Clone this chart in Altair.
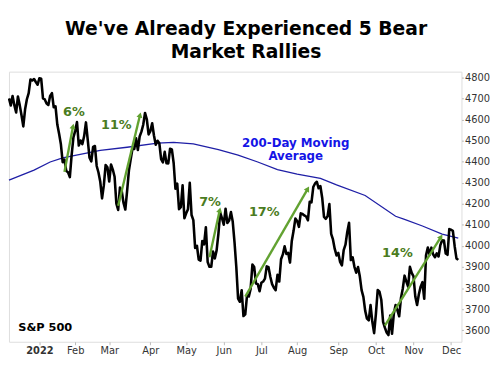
import math
import altair as alt
import pandas as pd

# ---------------- data (S&P 500 daily closes) ----------------
dec21 = [4701, 4667, 4712, 4669, 4634, 4710, 4669, 4621, 4568, 4649, 4697, 4726,
         4791, 4786, 4793, 4779, 4766]
jan = [4797, 4794, 4701, 4696, 4677, 4670, 4713, 4726, 4659, 4663, 4577, 4533,
       4483, 4398, 4410, 4356, 4350, 4327, 4432, 4516]
feb = [4547, 4589, 4477, 4501, 4484, 4522, 4587, 4504, 4419, 4402, 4471, 4475,
       4380, 4349, 4305, 4226, 4289, 4385, 4374]
mar = [4306, 4387, 4363, 4329, 4201, 4171, 4278, 4260, 4204, 4173, 4262, 4358,
       4412, 4463, 4461, 4512, 4456, 4520, 4543, 4576, 4632, 4602, 4530]
apr = [4546, 4583, 4525, 4481, 4500, 4488, 4413, 4397, 4447, 4393, 4392, 4462,
       4459, 4394, 4272, 4296, 4175, 4184, 4288, 4132]
may = [4155, 4175, 4300, 4147, 4123, 3991, 4001, 3935, 3930, 4024, 4008, 4089,
       3924, 3901, 3901, 3974, 3941, 3979, 4058, 4158, 4132]
jun = [4101, 4177, 4109, 4121, 4161, 4116, 4018, 3901, 3750, 3735, 3790, 3667,
       3675, 3765, 3760, 3796, 3912, 3900, 3822, 3819, 3785]
jul = [3825, 3831, 3845, 3903, 3899, 3854, 3819, 3802, 3790, 3863, 3831, 3937,
       3960, 3999, 3962, 3967, 3921, 4024, 4072, 4130]
aug = [4119, 4091, 4155, 4152, 4145, 4140, 4122, 4210, 4207, 4280, 4297, 4305,
       4274, 4284, 4228, 4138, 4129, 4141, 4199, 4058, 4031, 3986, 3955]
sep = [3967, 3924, 3908, 3980, 4006, 4067, 4110, 3933, 3946, 3901, 3873, 3900,
       3856, 3790, 3758, 3693, 3655, 3647, 3719, 3640, 3586]
octo = [3678, 3791, 3783, 3745, 3640, 3612, 3589, 3577, 3670, 3583, 3678, 3720,
        3695, 3666, 3753, 3797, 3859, 3831, 3807, 3901, 3872]
nov = [3856, 3760, 3720, 3771, 3807, 3828, 3749, 3956, 3993, 3957, 3992, 3959,
       3947, 3965, 3950, 4004, 4027, 4026, 3964, 3958, 4080]
dec22 = [4077, 4072, 3999, 3941, 3934]

months_2022 = [jan, feb, mar, apr, may, jun, jul, aug, sep, octo, nov, dec22]
month_labels = ["2022", "Feb", "Mar", "Apr", "May", "Jun", "Jul", "Aug",
                "Sep", "Oct", "Nov", "Dec"]
y_ticks = [3600, 3700, 3800, 3900, 4000, 4100, 4200, 4300, 4400, 4500, 4600, 4700, 4800]

# 200-day moving average (trading-day index, value)
ma_idx = [0, 14, 23, 30, 51, 66, 83, 92, 103, 117, 128, 139, 150, 161, 174,
          183, 199, 216, 221, 231, 242, 251]
ma_val = [4313, 4360, 4399, 4419, 4454, 4469, 4489, 4492, 4485, 4458, 4432,
          4399, 4363, 4341, 4321, 4290, 4240, 4141, 4126, 4095, 4056, 4037]

# rally arrows (start index/value -> end index/value) and labels
arrow_x0 = [31, 61, 112, 132, 210]
arrow_y0 = [4352, 4191, 3946, 3759, 3622]
arrow_x1 = [36, 73.5, 118, 167.5, 242]
arrow_y1 = [4578, 4632, 4180, 4280, 4052]
rally_text = ["6%", "11%", "7%", "17%", "14%"]
rally_tx = [36.3, 60, 112.3, 142.6, 217]
rally_ty = [4636, 4575, 4208, 4160, 3965]

# ---------------- build tables ----------------
closes = list(dec21)
month_idx = []
for m in months_2022:
    month_idx.append(len(closes))
    closes += m

spx = pd.DataFrame({"i": list(range(len(closes))), "v": closes})
ma = pd.DataFrame({"i": ma_idx, "v": ma_val})

W, H = 459, 274
XD = [0, 252.8]
YD = [3545, 4828]
sx = W / (XD[1] - XD[0])
sy = H / (YD[1] - YD[0])

rows = []
for x0, y0, x1, y1 in zip(arrow_x0, arrow_y0, arrow_x1, arrow_y1):
    dxp = (x1 - x0) * sx
    dyp = (y1 - y0) * sy
    L = math.hypot(dxp, dyp)
    ang = math.degrees(math.atan2(dxp, dyp)) % 360
    hx = x1 - 3.0 * dxp / L / sx
    hy = y1 - 3.0 * dyp / L / sy
    rows.append({"i": x0, "v": y0, "i2": hx, "v2": hy, "ang": ang})
arrows = pd.DataFrame(rows)
heads = pd.DataFrame({"i": arrows["i2"], "v": arrows["v2"], "ang": arrows["ang"]})
labels = pd.DataFrame({"i": rally_tx, "v": rally_ty, "t": rally_text})

xs = alt.Scale(domain=XD, nice=False, zero=False)
ys = alt.Scale(domain=YD, nice=False, zero=False)

label_expr = "[" + ",".join("'%s'" % s for s in month_labels) + "][indexof([" + \
    ",".join(str(v) for v in month_idx) + "], datum.value)]"

x_axis = alt.Axis(values=month_idx, labelExpr=label_expr, grid=False, domain=False,
                  ticks=True, tickSize=3, tickColor="#bbbbbb", labelFont="DejaVu Sans",
                  labelFontSize=10, labelColor="#333333", labelPadding=1, title=None,
                  labelOverlap=False,
                  labelFontWeight=alt.condition("datum.value == %d" % month_idx[0],
                                                alt.value("bold"), alt.value("normal")))
y_axis = alt.Axis(orient="right", values=y_ticks, grid=False,
                  domain=False, ticks=True, tickSize=2, tickColor="#bbbbbb",
                  labelFont="DejaVu Sans", labelFontSize=10, labelColor="#333333",
                  labelPadding=1, title=None, labelExpr="'' + datum.value",
                  labelOverlap=False, labelBound=False, labelFlush=False)

X = alt.X("i:Q", scale=xs, axis=x_axis)
Y = alt.Y("v:Q", scale=ys, axis=y_axis)

ma_line = alt.Chart(ma).mark_line(color="#1f1fa6", strokeWidth=1.3).encode(x=X, y=Y)
spx_line = alt.Chart(spx).mark_line(color="black", strokeWidth=2.6, strokeJoin="round").encode(
    x=X, y=Y)
arrow_lines = alt.Chart(arrows).mark_rule(color="#62a231", strokeWidth=2.4).encode(
    x=X, y=Y, x2="i2:Q", y2="v2:Q")
arrow_heads = alt.Chart(heads).mark_point(shape="triangle", filled=True, opacity=1,
                                          color="#62a231", size=38).encode(
    x=X, y=Y, angle=alt.Angle("ang:Q", scale=None))
rally_labels = alt.Chart(labels).mark_text(font="DejaVu Sans", fontWeight="bold",
                                           fontSize=13, color="#4a7c21",
                                           align="center", baseline="middle").encode(
    x=X, y=Y, text="t:N")
ma_note = pd.DataFrame({"i": [160.2], "v": [4491], "t": ["200-Day Moving\nAverage"]})
ma_label = alt.Chart(ma_note).mark_text(font="DejaVu Sans", fontWeight="bold", fontSize=12,
                                        color="#1414e6", align="center", baseline="middle",
                                        lineBreak="\n", lineHeight=14).encode(
    x=X, y=Y, text="t:N")
spx_note = pd.DataFrame({"i": [5.2], "v": [3611], "t": ["S&P 500"]})
spx_label = alt.Chart(spx_note).mark_text(font="DejaVu Sans", fontWeight="bold", fontSize=11.5,
                                          color="black", align="left", baseline="middle").encode(
    x=X, y=Y, text="t:N")

chart = alt.layer(ma_line, spx_line, arrow_lines, arrow_heads, rally_labels, ma_label,
                  spx_label).properties(
    width=W, height=H,
    autosize=alt.AutoSizeParams(type="none"),
    padding={"left": 1, "top": 62, "right": 33, "bottom": 22},
    title=alt.TitleParams(text=["We've Already Experienced 5 Bear", "Market Rallies"],
                          font="DejaVu Sans", fontSize=19, fontWeight="bold", color="black",
                          anchor="middle", frame="group", dx=11, lineHeight=23, offset=10),
).configure_view(stroke="#bdbdbd", strokeWidth=1).configure(background="white")

chart.save("out.html", embed_options={"renderer": "svg", "actions": False})
